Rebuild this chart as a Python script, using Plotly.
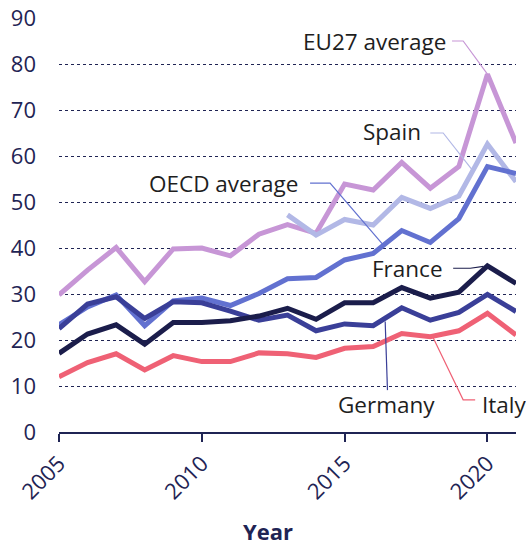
import plotly.graph_objects as go

years = list(range(2005, 2022))
eu27 = [29.8, 35.2, 40.1, 32.7, 39.8, 40.0, 38.3, 43.0, 45.1, 43.2, 53.9, 52.6, 58.6, 53.0, 57.7, 77.8, 62.8]
spain_years = list(range(2013, 2022))
spain = [47.2, 42.8, 46.2, 45.0, 51.0, 48.6, 51.3, 62.6, 54.4]
oecd = [23.3, 27.2, 29.8, 23.1, 28.5, 29.1, 27.5, 30.1, 33.3, 33.6, 37.4, 38.8, 43.8, 41.2, 46.4, 57.7, 56.2]
germany = [22.5, 27.8, 29.4, 24.7, 28.3, 28.1, 26.3, 24.3, 25.4, 22.0, 23.5, 23.1, 27.0, 24.3, 26.0, 29.9, 26.2]
france = [17.1, 21.3, 23.3, 19.1, 23.8, 23.8, 24.2, 25.2, 26.9, 24.5, 28.1, 28.1, 31.4, 29.1, 30.4, 36.1, 32.3]
italy = [12.0, 15.1, 17.0, 13.5, 16.6, 15.3, 15.3, 17.2, 17.0, 16.2, 18.2, 18.6, 21.4, 20.7, 22.0, 25.8, 21.1]

colors = {
    "EU27 average": "#c796d6",
    "Spain": "#b2b8e6",
    "OECD average": "#6271d0",
    "Germany": "#3a3f98",
    "France": "#1b1d4b",
    "Italy": "#ef6175",
}

# label: (text x, text y, anchor, leader x list, leader y list)
labels = {
    "EU27 average": (2018.62, 84.9, "right", [2018.76, 2019.15, 2020.0], [85.0, 85.0, 77.8]),
    "Spain": (2017.75, 65.3, "right", [2018.0, 2018.45, 2019.5], [65.0, 65.0, 56.7]),
    "OECD average": (2013.44, 54.1, "right", [2013.79, 2014.49, 2016.35], [54.1, 54.1, 40.7]),
    "France": (2018.52, 35.6, "right", [2018.8, 2019.4, 2019.86], [35.6, 35.6, 36.0]),
    "Germany": (2016.46, 5.9, "center", [2016.5, 2016.42], [9.1, 24.0]),
    "Italy": (2019.75, 5.9, "left", [2019.57, 2019.15, 2018.1], [7.0, 7.0, 20.5]),
}

navy = "#1f2454"
fig = go.Figure()

series = [
    ("EU27 average", years, eu27),
    ("Spain", spain_years, spain),
    ("OECD average", years, oecd),
    ("Germany", years, germany),
    ("France", years, france),
    ("Italy", years, italy),
]
for name, xs, ys in series:
    fig.add_trace(go.Scatter(x=xs, y=ys, mode="lines", name=name,
                             line=dict(color=colors[name], width=5),
                             hoverinfo="x+y+name"))

annotations = []
for name, (tx, ty, anchor, lx, ly) in labels.items():
    fig.add_trace(go.Scatter(x=lx, y=ly, mode="lines", showlegend=False,
                             line=dict(color=colors[name], width=1.2),
                             hoverinfo="skip"))
    annotations.append(dict(x=tx, y=ty, xref="x", yref="y", text=name,
                            showarrow=False, xanchor=anchor, yanchor="middle",
                            font=dict(family="Open Sans", size=22.5, color="#1e1e1e")))

annotations.append(dict(x=0.457, y=-0.2395, xref="paper", yref="paper", text="<b>Year</b>",
                        showarrow=False, xanchor="center", yanchor="middle",
                        font=dict(family="Open Sans", size=22, color=navy)))

fig.update_layout(
    width=526, height=544,
    margin=dict(l=59.3, r=10.3, t=18, b=112, autoexpand=False),
    paper_bgcolor="white", plot_bgcolor="white",
    showlegend=False,
    annotations=annotations,
    font=dict(family="Open Sans", size=22, color=navy),
)
fig.update_xaxes(range=[2005, 2021], tickvals=[2005, 2010, 2015, 2020],
                 tickangle=-45, showgrid=False, zeroline=False, automargin=False,
                 showline=True, linecolor=navy, linewidth=2, ticklabeloverflow="allow",
                 ticks="outside", ticklen=8, tickwidth=2, tickcolor=navy,
                 tickfont=dict(family="Open Sans", size=22, color=navy))
fig.update_yaxes(range=[0, 90], dtick=10, showgrid=True, gridcolor=navy,
                 griddash="dot", gridwidth=1.3, zeroline=False, showline=False,
                 ticks="", ticklabelstandoff=22, automargin=False, ticklabeloverflow="allow",
                 tickfont=dict(family="Open Sans", size=22, color=navy))

# remove the browser's default 8px body margin so the 526x544 figure fills the window
fig.write_html("out.html", config={"displayModeBar": False},
               post_script="document.body.style.margin='0';document.body.style.overflow='hidden';")
